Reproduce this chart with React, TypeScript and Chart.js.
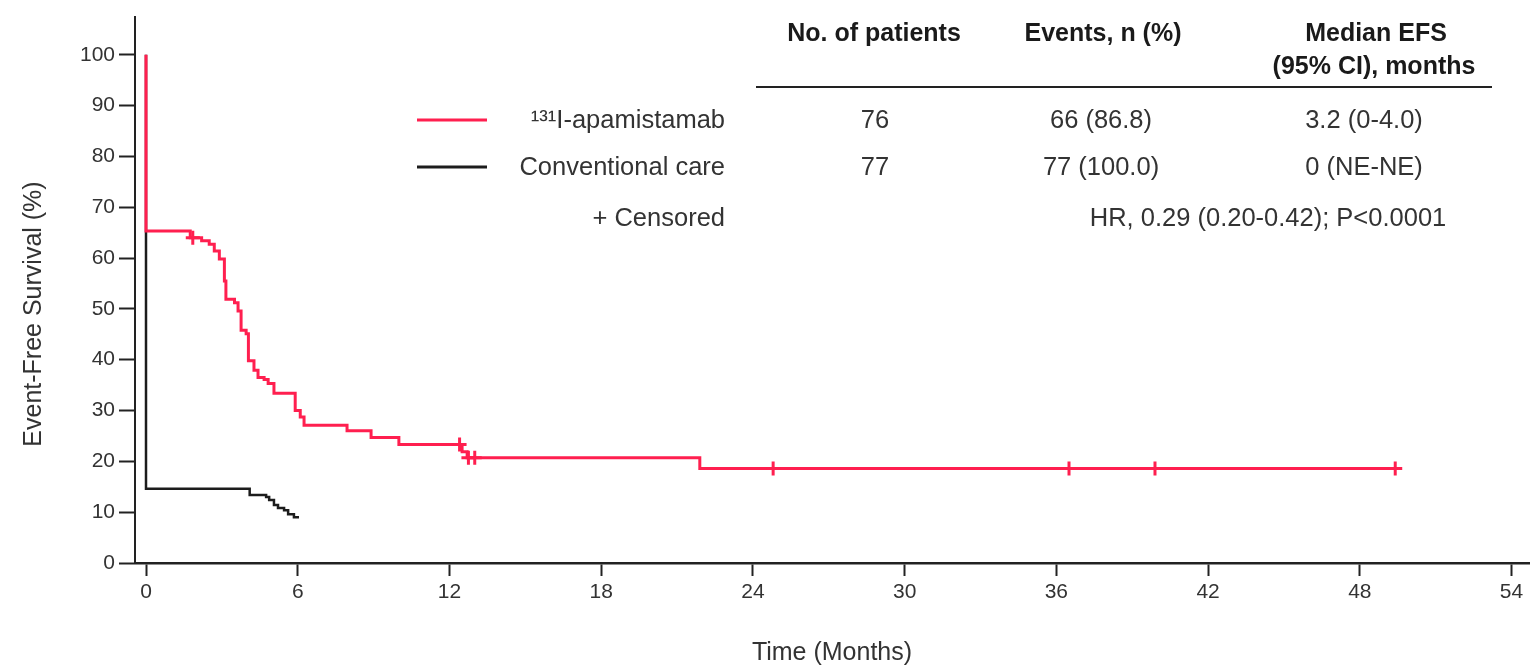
import React, { useEffect, useRef } from "react";
import { Chart, registerables } from "chart.js";

Chart.register(...registerables);

// ---- Data ----
const apamTimes = [0, 0, 1.75, 2.2, 2.5, 2.7, 2.9, 3.1, 3.16, 3.5, 3.64, 3.76, 3.96, 4.05, 4.27, 4.43, 4.67, 4.83, 5.06, 5.9, 6.1, 6.25, 7.95, 8.9, 10.0, 12.5, 12.7, 21.9, 49.6];
const apamSurv = [100, 65.3, 64.0, 63.4, 62.7, 61.4, 59.8, 55.5, 51.9, 51.2, 49.6, 45.8, 45.1, 39.8, 37.9, 36.5, 36.1, 35.3, 33.4, 30.0, 28.7, 27.1, 26.0, 24.7, 23.3, 21.9, 20.7, 18.6, 18.6];
const apamCensorTimes = [1.85, 12.4, 12.75, 13.0, 24.8, 36.5, 39.9, 49.4];
const apamCensorSurv = [64.0, 23.3, 20.7, 20.7, 18.6, 18.6, 18.6, 18.6];
const convTimes = [0, 0, 4.1, 4.75, 4.87, 5.06, 5.22, 5.46, 5.62, 5.85, 6.05];
const convSurv = [100, 14.6, 13.4, 13.0, 12.4, 11.4, 10.8, 10.4, 9.6, 9.0, 9.0];

const xTicks = [0, 6, 12, 18, 24, 30, 36, 42, 48, 54];
const yTicks = [0, 10, 20, 30, 40, 50, 60, 70, 80, 90, 100];

const groupNames = ["\u00B9\u00B3\u00B9I-apamistamab", "Conventional care"];
const patientCounts = ["76", "77"];
const eventCounts = ["66 (86.8)", "77 (100.0)"];
const medianEfs = ["3.2 (0-4.0)", "0 (NE-NE)"];
const headerPatients = "No. of patients";
const headerEvents = "Events, n (%)";
const headerMedian = ["Median EFS", "(95% CI), months"];
const censoredLabel = "+ Censored";
const hrText = "HR, 0.29 (0.20-0.42); P<0.0001";
const xTitle = "Time (Months)";
const yTitle = "Event-Free Survival (%)";

const RED = "#FF1F4F";
const BLACK = "#1c1c1c";
const TEXT = "#333";
const FONT = "'Liberation Sans', Arial, Helvetica, sans-serif";

const toPts = (xs: number[], ys: number[]) => xs.map((x, i) => ({ x, y: ys[i] }));

const tablePlugin = {
  id: "kmTable",
  afterDraw(chart: any) {
    const ctx = chart.ctx as CanvasRenderingContext2D;
    ctx.save();
    ctx.textBaseline = "middle";
    // y-axis title
    ctx.save();
    ctx.translate(34, 314);
    ctx.rotate(-Math.PI / 2);
    ctx.textAlign = "center";
    ctx.fillStyle = TEXT;
    ctx.font = `25px ${FONT}`;
    ctx.fillText(yTitle, 0, 0);
    ctx.restore();
    // headers
    ctx.fillStyle = "#1a1a1a";
    ctx.font = `bold 25px ${FONT}`;
    ctx.textAlign = "center";
    ctx.fillText(headerPatients, 874, 34);
    ctx.fillText(headerEvents, 1103, 34);
    ctx.fillText(headerMedian[0], 1376, 34);
    ctx.fillText(headerMedian[1], 1374, 67);
    // rule
    ctx.strokeStyle = "#222";
    ctx.lineWidth = 2;
    ctx.beginPath();
    ctx.moveTo(756, 87);
    ctx.lineTo(1492, 87);
    ctx.stroke();
    // rows
    const rowY = [121, 168];
    const colors = [RED, BLACK];
    ctx.font = `25.5px ${FONT}`;
    for (let i = 0; i < groupNames.length; i++) {
      const y = rowY[i];
      ctx.strokeStyle = colors[i];
      ctx.lineWidth = 3;
      ctx.beginPath();
      ctx.moveTo(417, y - 1);
      ctx.lineTo(487, y - 1);
      ctx.stroke();
      ctx.fillStyle = TEXT;
      ctx.textAlign = "right";
      ctx.fillText(groupNames[i], 725, y);
      ctx.textAlign = "center";
      ctx.fillText(patientCounts[i], 875, y);
      ctx.fillText(eventCounts[i], 1101, y);
      ctx.fillText(medianEfs[i], 1364, y);
    }
    ctx.textAlign = "right";
    ctx.fillText(censoredLabel, 725, 219);
    ctx.textAlign = "center";
    ctx.fillText(hrText, 1268, 219);
    ctx.restore();
  },
};

export default function App() {
  const ref = useRef<HTMLCanvasElement | null>(null);
  useEffect(() => {
    if (!ref.current) return;
    const chart = new Chart(ref.current, {
      type: "line",
      data: {
        datasets: [
          {
            type: "scatter",
            data: toPts(apamCensorTimes, apamCensorSurv),
            showLine: false,
            pointStyle: "cross",
            pointRadius: 7,
            pointBorderWidth: 3,
            borderColor: RED,
            backgroundColor: RED,
          } as any,
          {
            data: toPts(apamTimes, apamSurv),
            stepped: true,
            borderColor: RED,
            borderWidth: 3,
            pointRadius: 0,
            fill: false,
          },
          {
            data: toPts(convTimes, convSurv),
            stepped: true,
            borderColor: BLACK,
            borderWidth: 2.5,
            pointRadius: 0,
            fill: false,
          },
        ],
      },
      options: {
        animation: false,
        responsive: false,
        layout: { padding: { top: 5, left: 0, right: 0, bottom: 0 } },
        plugins: { legend: { display: false }, tooltip: { enabled: false } },
        scales: {
          x: {
            type: "linear",
            min: -0.435,
            max: 54.69,
            afterBuildTicks: (s: any) => {
              s.ticks = xTicks.map((v) => ({ value: v }));
            },
            afterFit: (s: any) => {
              s.height = 103;
            },
            grid: { drawOnChartArea: false, drawTicks: true, tickLength: 13, tickWidth: 2, tickColor: "#222" },
            border: { display: true, color: "#222", width: 2.5 },
            ticks: { color: TEXT, font: { family: FONT, size: 21 }, padding: 4, maxRotation: 0, autoSkip: false },
            title: {
              display: true,
              text: xTitle,
              color: TEXT,
              font: { family: FONT, size: 25, lineHeight: 1 },
              padding: { top: 0, bottom: 0 },
            },
          },
          y: {
            type: "linear",
            min: 0,
            max: 107.5,
            afterBuildTicks: (s: any) => {
              s.ticks = yTicks.map((v) => ({ value: v }));
            },
            afterFit: (s: any) => {
              s.width = 135;
            },
            grid: { drawOnChartArea: false, drawTicks: true, tickLength: 16, tickWidth: 2, tickColor: "#222" },
            border: { display: true, color: "#222", width: 2 },
            ticks: { color: TEXT, font: { family: FONT, size: 21 }, padding: 4, autoSkip: false },
            title: { display: false },
          },
        },
      } as any,
      plugins: [tablePlugin],
    });
    return () => chart.destroy();
  }, []);
  return (
    <div style={{ position: "absolute", left: 0, top: 0, width: 1539, height: 666, background: "#fff" }}>
      <canvas ref={ref} width={1539} height={666} style={{ display: "block" }} />
    </div>
  );
}
